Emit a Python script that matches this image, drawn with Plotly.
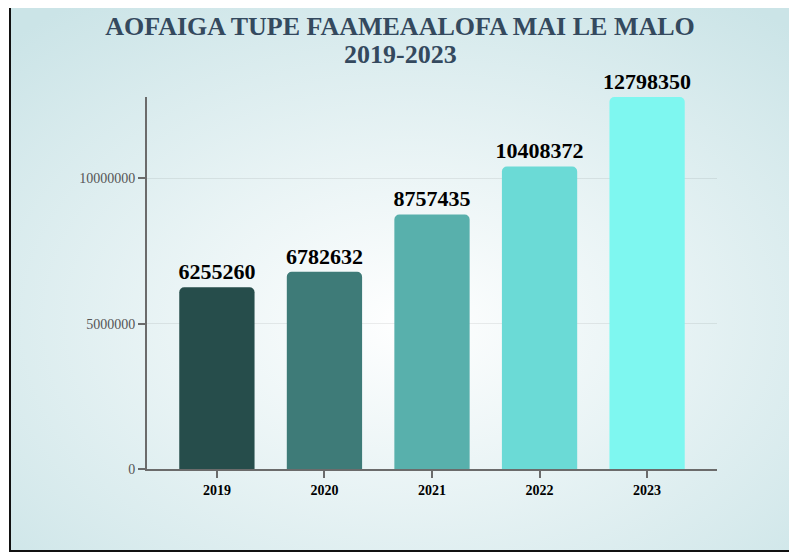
import base64
import plotly.graph_objects as go

# ---- data ----
years = ["2019", "2020", "2021", "2022", "2023"]
values = [6255260, 6782632, 8757435, 10408372, 12798350]
bar_colors = ["#264d4b", "#3e7b78", "#58b0ac", "#6bdad6", "#7ef7f0"]
title_line1 = "AOFAIGA TUPE FAAMEAALOFA MAI LE MALO"
title_line2 = "2019-2023"

# page is 797x552; the html body has an 8px margin, so the figure is offset
OFF = 8
W, H = 797 - OFF, 552 - OFF
ML, MR, MT, MB = 147 - OFF, 80, 97 - OFF, 83
SERIF = "Liberation Serif, Times New Roman, serif"

# background: radial gradient panel with a dark frame
svg = f'''<svg xmlns="http://www.w3.org/2000/svg" width="{W}" height="{H}" viewBox="0 0 {W} {H}" preserveAspectRatio="none">
<defs><radialGradient id="g" cx="0.5" cy="0.58" r="0.72">
<stop offset="0" stop-color="#ffffff"/><stop offset="1" stop-color="#cbe4e7"/></radialGradient></defs>
<rect width="{W}" height="{H}" fill="#ffffff"/>
<rect x="{10 - OFF}" y="{6 - OFF}" width="800" height="545" fill="url(#g)" stroke="#111111" stroke-width="2"/>
</svg>'''
bg_src = "data:image/svg+xml;base64," + base64.b64encode(svg.encode()).decode()

pw = W - ML - MR
ph = H - MT - MB

fig = go.Figure()
fig.add_trace(go.Bar(
    x=years,
    y=values,
    marker=dict(color=bar_colors, cornerradius=5, line=dict(width=0)),
    width=0.7,
    text=[str(v) for v in values],
    texttemplate="%{text}",
    textposition="outside",
    constraintext="none",
    cliponaxis=False,
    textfont=dict(family=SERIF, size=22, color="#000000", weight="bold"),
    hoverinfo="x+y",
))

fig.update_layout(
    width=W,
    height=H,
    margin=dict(l=ML, r=MR, t=MT, b=MB, pad=0),
    paper_bgcolor="#e8f3f4",
    plot_bgcolor="rgba(0,0,0,0)",
    showlegend=False,
    bargap=0.3,
    title=dict(
        text="<b>" + title_line1 + "</b>",
        font=dict(family=SERIF, size=26, color="#34495e"),
        x=(400 - OFF) / W, xanchor="center", xref="container",
        y=1 - (17 - OFF) / H, yanchor="top", yref="container",
    ),
    annotations=[dict(
        text="<b>" + title_line2 + "</b>",
        font=dict(family=SERIF, size=26, color="#34495e"),
        xref="paper", yref="paper",
        x=(400 - OFF - ML) / pw, y=1 + (MT - (54 - OFF)) / ph,
        xanchor="center", yanchor="middle", showarrow=False,
    )],
    images=[dict(
        source=bg_src, xref="paper", yref="paper",
        x=-ML / pw, y=1 + MT / ph, sizex=W / pw, sizey=H / ph,
        xanchor="left", yanchor="top", sizing="stretch", layer="below",
    )],
    xaxis=dict(
        type="category",
        range=[-0.65, 4.65],
        showline=True, linecolor="#6b6b6b", linewidth=2,
        ticks="outside", ticklen=7, tickwidth=2, tickcolor="#6b6b6b",
        tickfont=dict(family=SERIF, size=14, color="#000000", weight="bold"),
        showgrid=False, zeroline=False,
    ),
    yaxis=dict(
        range=[0, max(values)],
        dtick=5000000, tickformat="d",
        showline=True, linecolor="#6b6b6b", linewidth=2,
        ticks="outside", ticklen=7, tickwidth=2, tickcolor="#6b6b6b",
        tickfont=dict(family=SERIF, size=14, color="#555555"),
        showgrid=True, gridcolor="rgba(0,0,0,0.07)", gridwidth=1,
        zeroline=False,
    ),
)

fig.write_html("out.html")
